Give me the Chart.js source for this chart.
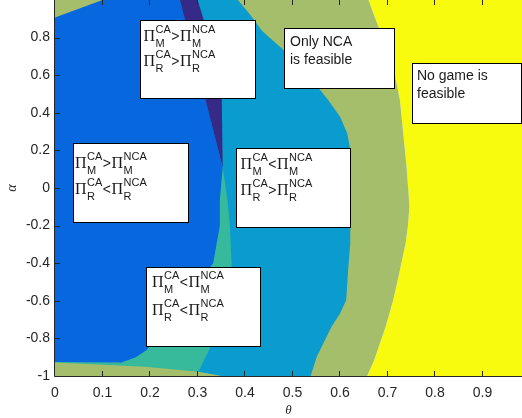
<!DOCTYPE html>
<html>
<head>
<meta charset="utf-8">
<script src="https://cdn.jsdelivr.net/npm/chart.js@4.4.1/dist/chart.umd.min.js"></script>
<style>html,body{margin:0;padding:0;background:#fff;overflow:hidden}</style>
</head>
<body>
<canvas id="c" width="522" height="418"></canvas>
<script>
// region borders, as [theta, alpha] pairs
const yellowEdge=[[0.66,1],[0.67,0.929],[0.681,0.858],[0.695,0.77],[0.716,0.592],[0.726,0.468],[0.733,0.291],[0.74,0.113],[0.744,-0.02],[0.746,-0.1],[0.743,-0.2],[0.738,-0.294],[0.723,-0.472],[0.712,-0.596],[0.696,-0.738],[0.684,-0.826],[0.672,-0.915],[0.657,-1]];
const blueEdge=[[0.385,1],[0.41,0.924],[0.436,0.835],[0.48,0.737],[0.558,0.521],[0.575,0.468],[0.6,0.379],[0.615,0.291],[0.621,0.211],[0.622,-0.117],[0.621,-0.294],[0.617,-0.436],[0.613,-0.596],[0.6,-0.667],[0.582,-0.738],[0.565,-0.826],[0.551,-0.897],[0.538,-1]];
const tealEdge=[[0.353,0.11],[0.363,-0.063],[0.368,-0.2],[0.372,-0.42],[0.326,-0.853],[0.302,-0.978],[0.29,-1]];
const darkEdge=[[0.263,1],[0.353,0.11],[0.347,-0.063],[0.347,-0.2],[0.333,-0.4],[0.193,-0.862],[0.17,-0.9],[0.14,-0.928],[0,-0.925]];
const navyEdge=[[0.30,1],[0.333,0.737],[0.351,0.47],[0.353,0.11]];
const cornerEdge=[[0,0.907],[0.1,1]];
const stripEdge=[[0,-0.928],[0.19,-0.951],[0.302,-0.978],[0.351,-1]];

const xTicks=[0,0.1,0.2,0.3,0.4,0.5,0.6,0.7,0.8,0.9];
const xTickLabels=['0','0.1','0.2','0.3','0.4','0.5','0.6','0.7','0.8','0.9'];
const yTicks=[-1,-0.8,-0.6,-0.4,-0.2,0,0.2,0.4,0.6,0.8];
const yTickLabels=['-1','-0.8','-0.6','-0.4','-0.2','0','0.2','0.4','0.6','0.8'];

// text boxes: [theta0, theta1] x [alpha top, alpha bottom]
const notes=[
  {x0:0.179,x1:0.423,y0:0.894,y1:0.471,pi:[['M','>'],['R','>']],dx:3.5,base:[21,46]},
  {x0:0.0385,x1:0.283,y0:0.24,y1:-0.187,pi:[['M','>'],['R','<']],dx:2,base:[25,51]},
  {x0:0.380,x1:0.623,y0:0.213,y1:-0.213,pi:[['M','<'],['R','>']],dx:4.5,base:[21,47]},
  {x0:0.191,x1:0.434,y0:-0.421,y1:-0.845,pi:[['M','<'],['R','<']],dx:6,base:[20,48]},
  {x0:0.481,x1:0.716,y0:0.853,y1:0.524,text:['Only NCA','is feasible'],dx:6,base:[17.7,35.5]},
  {x0:0.752,x1:0.9825,y0:0.667,y1:0.338,text:['No game is','feasible'],dx:5,base:[17.4,35]}
];

const pts=a=>a.map(([x,y])=>({x,y}));
const region=(label,data,color)=>({label,data:pts(data),showLine:true,fill:'shape',backgroundColor:color,
  borderColor:'rgba(0,0,0,0)',borderWidth:0,pointRadius:0,tension:0});

// first dataset is drawn on top
const datasets=[
  region('strip',[...stripEdge,[0,-1]],'#a5be6b'),
  region('corner',[[0,1],...cornerEdge],'#a5be6b'),
  region('navy',[[0.263,1],...navyEdge],'#352a87'),
  region('dark',[[0,1],...darkEdge],'#0767df'),
  region('teal',[[0,0.11],...tealEdge,[0,-1]],'#37b99b'),
  region('light',[[0,1],...blueEdge,[0,-1]],'#0a9bcf'),
  region('olive',[[0,1],...yellowEdge,[0,-1]],'#a5be6b'),
  region('yellow',[...yellowEdge,[1,-1],[1,1]],'#f9fb0e')
];

function piLine(ctx,x,y,sub,op){
  ctx.font='16px "Liberation Serif"';ctx.fillText('\u03A0',x,y);x+=ctx.measureText('\u03A0').width+0.5;
  ctx.font='11px "Liberation Sans"';ctx.fillText('CA',x,y-8);ctx.fillText(sub,x,y+5.5);
  x+=Math.max(ctx.measureText('CA').width,ctx.measureText(sub).width)+0.5;
  ctx.font='14px "Liberation Sans"';ctx.fillText(op,x,y);x+=ctx.measureText(op).width+0.5;
  ctx.font='16px "Liberation Serif"';ctx.fillText('\u03A0',x,y);x+=ctx.measureText('\u03A0').width+0.5;
  ctx.font='11px "Liberation Sans"';ctx.fillText('NCA',x,y-8);ctx.fillText(sub,x,y+5.5);
}

const frame={id:'frame',afterDatasetsDraw(chart){
  const {ctx,chartArea:a,scales:{x,y}}=chart;
  ctx.save();
  ctx.strokeStyle='#262626';ctx.lineWidth=1;
  ctx.beginPath();
  ctx.moveTo(a.left-0.5,a.top);ctx.lineTo(a.left-0.5,a.bottom+0.5);ctx.lineTo(a.right,a.bottom+0.5);
  xTicks.forEach(v=>{const p=Math.round(x.getPixelForValue(v))-0.5;
    ctx.moveTo(p,a.bottom);ctx.lineTo(p,a.bottom-5);ctx.moveTo(p,a.top);ctx.lineTo(p,a.top+5);});
  yTicks.forEach(v=>{const p=Math.round(y.getPixelForValue(v))+0.5;ctx.moveTo(a.left,p);ctx.lineTo(a.left+5,p);});
  ctx.stroke();
  notes.forEach(n=>{
    const l=Math.round(x.getPixelForValue(n.x0)),r=Math.round(x.getPixelForValue(n.x1));
    const t=Math.round(y.getPixelForValue(n.y0)),b=Math.round(y.getPixelForValue(n.y1));
    ctx.fillStyle='#fff';ctx.fillRect(l,t,r-l,b-t);
    ctx.strokeStyle='#000';ctx.strokeRect(l+0.5,t+0.5,r-l-1,b-t-1);
    ctx.fillStyle='#1a1a1a';ctx.textBaseline='alphabetic';ctx.textAlign='left';
    if(n.pi){n.pi.forEach((p,i)=>piLine(ctx,l+n.dx,t+n.base[i],p[0],p[1]));}
    else{ctx.font='14px "Liberation Sans"';n.text.forEach((s,i)=>ctx.fillText(s,l+n.dx,t+n.base[i]));}
  });
  ctx.restore();
}};

const tickFont={family:'"Liberation Sans"',size:14};
new Chart(document.getElementById('c'),{
  type:'scatter',
  data:{datasets},
  options:{
    responsive:false,animation:false,events:[],devicePixelRatio:1,
    layout:{padding:0},
    plugins:{legend:{display:false},tooltip:{enabled:false}},
    scales:{
      x:{type:'linear',min:0,max:0.983,grid:{display:false,drawTicks:false},border:{display:false},
        afterBuildTicks:s=>{s.ticks=xTicks.map(v=>({value:v}));},
        afterFit:s=>{s.height=42;s.paddingLeft=0;s.paddingRight=0;},
        ticks:{autoSkip:false,maxRotation:0,padding:9,color:'#262626',font:tickFont,
          callback:v=>xTickLabels[xTicks.indexOf(v)]},
        title:{display:true,text:'\u03B8',color:'#262626',padding:{top:0,bottom:0},
          font:{family:'"Liberation Serif"',size:13,style:'italic'}}},
      y:{type:'linear',min:-1,max:1,grid:{display:false,drawTicks:false},border:{display:false},
        afterBuildTicks:s=>{s.ticks=yTicks.map(v=>({value:v}));},
        afterFit:s=>{s.width=55;s.paddingTop=0;s.paddingBottom=0;},
        ticks:{autoSkip:false,padding:5,color:'#262626',font:tickFont,
          callback:v=>yTickLabels[yTicks.indexOf(v)]},
        title:{display:true,text:'\u03B1',color:'#262626',padding:{top:4,bottom:0},
          font:{family:'"Liberation Serif"',size:14,style:'italic'}}}
    }
  },
  plugins:[frame]
});
</script>
</body>
</html>
